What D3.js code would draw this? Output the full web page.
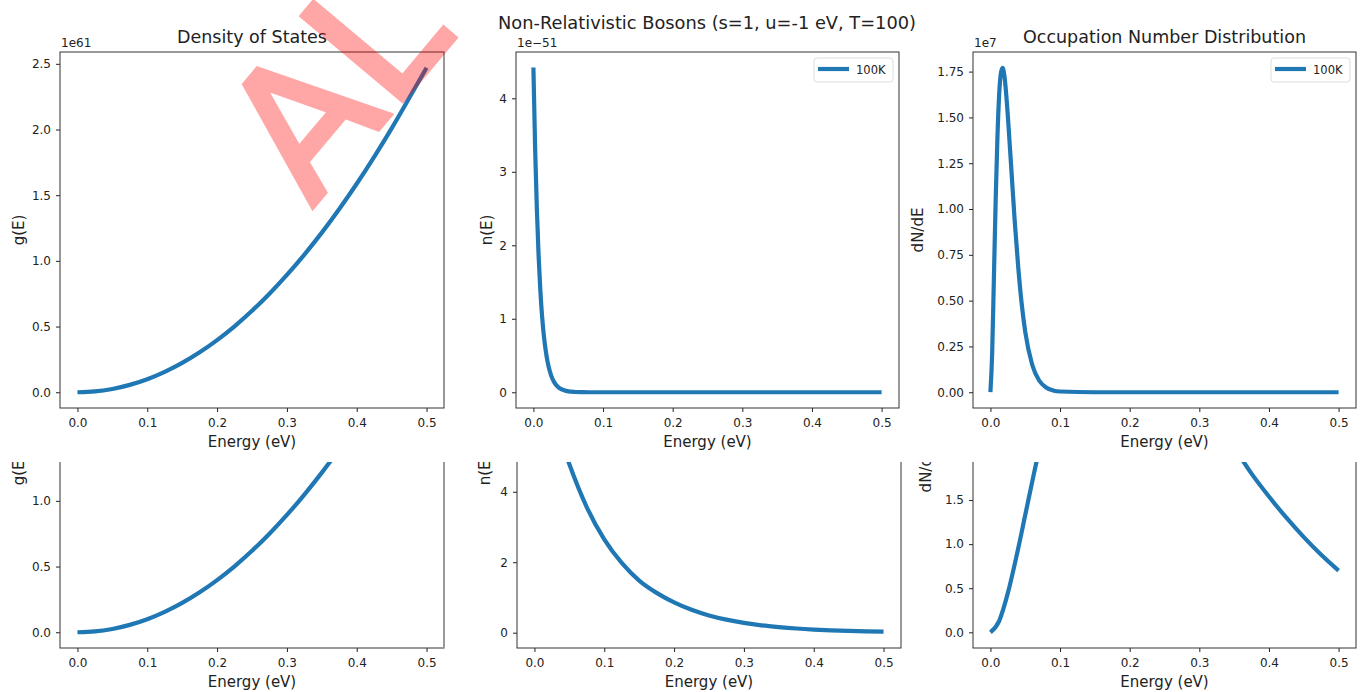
<!DOCTYPE html>
<html lang="en">
<head>
    <meta charset="UTF-8">
    <title>Non-Relativistic Bosons</title>
    <script src="https://d3js.org/d3.v7.min.js"></script>
    <style>
        body {
            margin: 0;
            padding: 0;
            background-color: #fff;
        }
        svg text {
            font-family: "DejaVu Sans", sans-serif;
            fill: #222;
        }
    </style>
</head>
<body>
    <script>
        // --- data ---
        var xTicks = [0, 0.1, 0.2, 0.3, 0.4, 0.5];

        var energyCoarse = [0, 0.025, 0.05, 0.075, 0.1, 0.125, 0.15, 0.175, 0.2, 0.225, 0.25,
            0.275, 0.3, 0.325, 0.35, 0.375, 0.4, 0.425, 0.45, 0.475, 0.5];
        var densityOfStates = [0, 0.006, 0.025, 0.056, 0.099, 0.155, 0.223, 0.304, 0.397, 0.502, 0.620,
            0.750, 0.893, 1.048, 1.215, 1.395, 1.587, 1.792, 2.009, 2.238, 2.47];   // x 1e61
        var dosTicks = [0, 0.5, 1, 1.5, 2, 2.5];

        var energyFine = [0, 0.0025, 0.005, 0.0075, 0.01, 0.0125, 0.015, 0.0175, 0.02, 0.025, 0.03,
            0.035, 0.04, 0.045, 0.05, 0.06, 0.07, 0.08, 0.09, 0.1, 0.15, 0.2, 0.3, 0.4, 0.5];
        var occupation100K = [4.42, 3.31, 2.48, 1.85, 1.38, 1.03, 0.77, 0.58, 0.43, 0.24, 0.135,
            0.076, 0.043, 0.024, 0.013, 0.004, 0.001, 0, 0, 0, 0, 0, 0, 0, 0];     // x 1e-51
        var occTicks = [0, 1, 2, 3, 4];
        var dNdE100K = [0, 0.21, 0.62, 1.04, 1.38, 1.62, 1.74, 1.77, 1.73, 1.51, 1.22,
            0.93, 0.68, 0.48, 0.33, 0.15, 0.064, 0.026, 0.010, 0.004, 0, 0, 0, 0, 0]; // x 1e7
        var dndeTicks = [0, 0.25, 0.5, 0.75, 1, 1.25, 1.5, 1.75];

        // lower (cropped) row
        var occupationLower = [8.4, 6.28, 4.78, 3.56, 2.65, 1.98, 1.48, 1.13, 0.86, 0.65, 0.49,
            0.37, 0.28, 0.21, 0.16, 0.12, 0.09, 0.068, 0.05, 0.038, 0.03];
        var occLowerTicks = [0, 2, 4, 6, 8];
        var energyLower = [0, 0.0125, 0.025, 0.0375, 0.05, 0.0625, 0.075, 0.1, 0.125, 0.15, 0.175, 0.2,
            0.225, 0.25, 0.275, 0.3, 0.325, 0.35, 0.375, 0.4, 0.425, 0.45, 0.475, 0.5];
        var dNdELower = [0, 0.128, 0.444, 0.864, 1.33, 1.80, 2.24, 2.97, 3.48, 3.75, 3.82, 3.74,
            3.54, 3.27, 2.96, 2.74, 2.42, 2.10, 1.80, 1.54, 1.30, 1.08, 0.88, 0.70];
        var dndeLowerTicks = [0, 0.5, 1, 1.5, 2, 2.5, 3, 3.5];

        var lineColor = "#1f77b4";

        var svg = d3.select("body").append("svg")
            .attr("width", 1363)
            .attr("height", 692);

        var defs = svg.append("defs");
        // the lower row is a cropped screenshot: everything above y=462 is cut away
        defs.append("clipPath").attr("id", "rowclip")
            .append("rect").attr("x", 0).attr("y", 462).attr("width", 1363).attr("height", 230);

        var panelCount = 0;

        function drawPanel(p) {
            var id = "ax" + (panelCount++);
            var root = svg.append("g");
            if (p.cropped) root.attr("clip-path", "url(#rowclip)");

            var x = d3.scaleLinear().domain([-0.025, 0.525]).range([p.left, p.right]);
            var y = d3.scaleLinear().domain(p.yDomain).range([p.bottom, p.top]);

            defs.append("clipPath").attr("id", id)
                .append("rect")
                .attr("x", p.left).attr("y", p.top)
                .attr("width", p.right - p.left).attr("height", p.bottom - p.top);

            // x axis
            var gx = root.append("g")
                .attr("transform", "translate(0," + p.bottom + ")")
                .call(d3.axisBottom(x).tickValues(xTicks).tickFormat(d3.format(".1f"))
                    .tickSize(4).tickPadding(6).tickSizeOuter(0));
            gx.select(".domain").remove();

            // y axis
            var gy = root.append("g")
                .attr("transform", "translate(" + p.left + ",0)")
                .call(d3.axisLeft(y).tickValues(p.yTicks).tickFormat(d3.format(p.yFormat))
                    .tickSize(4).tickPadding(5).tickSizeOuter(0));
            gy.select(".domain").remove();

            root.selectAll(".tick line").attr("stroke", "#222");
            root.selectAll(".tick text")
                .attr("font-size", 12)
                .attr("font-family", "DejaVu Sans")
                .attr("fill", "#333");

            // curve
            var line = d3.line()
                .x(function(d) { return x(d[0]); })
                .y(function(d) { return y(d[1]); })
                .curve(d3.curveMonotoneX);

            root.append("path")
                .datum(d3.zip(p.xs, p.ys))
                .attr("clip-path", "url(#" + id + ")")
                .attr("d", line)
                .attr("fill", "none")
                .attr("stroke", lineColor)
                .attr("stroke-width", 4.2)
                .attr("stroke-linejoin", "round")
                .attr("stroke-linecap", "butt");

            // frame
            root.append("rect")
                .attr("x", p.left).attr("y", p.top)
                .attr("width", p.right - p.left).attr("height", p.bottom - p.top)
                .attr("fill", "none")
                .attr("stroke", "#333")
                .attr("stroke-width", 1);
            if (p.cropped && p.sideColor) {
                root.append("line")
                    .attr("x1", p.right).attr("x2", p.right)
                    .attr("y1", p.top).attr("y2", p.bottom)
                    .attr("stroke", p.sideColor)
                    .attr("stroke-width", 2);
            }

            // labels
            var midX = (p.left + p.right) / 2;
            root.append("text")
                .attr("x", midX).attr("y", p.bottom + 39)
                .attr("text-anchor", "middle")
                .attr("font-size", 15)
                .text("Energy (eV)");

            root.append("text")
                .attr("transform", "translate(" + p.yLabelX + "," + ((p.top + p.bottom) / 2) + ") rotate(-90)")
                .attr("text-anchor", "middle")
                .attr("font-size", 15)
                .text(p.yLabel);

            if (p.offset) {
                root.append("text")
                    .attr("x", p.left + 1).attr("y", p.top - 5)
                    .attr("font-size", 12)
                    .attr("fill", "#333")
                    .text(p.offset);
            }
            if (p.title) {
                root.append("text")
                    .attr("x", midX).attr("y", p.top - 9)
                    .attr("text-anchor", "middle")
                    .attr("font-size", 17.5)
                    .text(p.title);
            }
            if (p.legend) {
                var lx = p.right - 85, ly = p.top + 6;
                root.append("rect")
                    .attr("x", lx).attr("y", ly)
                    .attr("width", 79).attr("height", 24)
                    .attr("rx", 3)
                    .attr("fill", "#fff")
                    .attr("fill-opacity", 0.8)
                    .attr("stroke", "#ddd");
                root.append("line")
                    .attr("x1", lx + 4).attr("x2", lx + 35)
                    .attr("y1", ly + 11).attr("y2", ly + 11)
                    .attr("stroke", lineColor)
                    .attr("stroke-width", 4.2);
                root.append("text")
                    .attr("x", lx + 42).attr("y", ly + 16)
                    .attr("font-size", 11.5)
                    .text(p.legend);
            }
        }

        // top row
        drawPanel({ left: 60, right: 444, top: 52, bottom: 408,
            yDomain: [-0.12, 2.59], yTicks: dosTicks, yFormat: ".1f",
            xs: energyCoarse, ys: densityOfStates,
            yLabel: "g(E)", yLabelX: 24, offset: "1e61", title: "Density of States" });
        drawPanel({ left: 516, right: 899, top: 52, bottom: 408,
            yDomain: [-0.214, 4.63], yTicks: occTicks, yFormat: "d",
            xs: energyFine, ys: occupation100K,
            yLabel: "n(E)", yLabelX: 492, offset: "1e\u221251", legend: "100K" });
        drawPanel({ left: 973, right: 1356, top: 52, bottom: 408,
            yDomain: [-0.086, 1.857], yTicks: dndeTicks, yFormat: ".2f",
            xs: energyFine, ys: dNdE100K,
            yLabel: "dN/dE", yLabelX: 923, offset: "1e7",
            title: "Occupation Number Distribution", legend: "100K" });

        // lower row, same layout shifted down and cropped at the top
        drawPanel({ cropped: true, left: 60, right: 444, top: 292, bottom: 648,
            yDomain: [-0.12, 2.59], yTicks: dosTicks, yFormat: ".1f",
            xs: energyCoarse, ys: densityOfStates,
            yLabel: "g(E)", yLabelX: 24, sideColor: "#999" });
        drawPanel({ cropped: true, left: 517, right: 901, top: 292, bottom: 648,
            yDomain: [-0.434, 9.67], yTicks: occLowerTicks, yFormat: "d",
            xs: energyCoarse, ys: occupationLower,
            yLabel: "n(E)", yLabelX: 490 });
        drawPanel({ cropped: true, left: 973, right: 1356, top: 292, bottom: 648,
            yDomain: [-0.178, 3.86], yTicks: dndeLowerTicks, yFormat: ".1f",
            xs: energyLower, ys: dNdELower,
            yLabel: "dN/dE", yLabelX: 931 });

        // figure title
        svg.append("text")
            .attr("x", 707).attr("y", 29)
            .attr("text-anchor", "middle")
            .attr("font-size", 17.8)
            .text("Non-Relativistic Bosons (s=1, u=-1 eV, T=100)");

        // watermark across the top
        svg.append("g")
            .attr("opacity", 0.34)
            .append("text")
            .attr("transform", "translate(312,208) rotate(-50)")
            .attr("font-size", 180)
            .style("fill", "#ff0000")
            .style("stroke", "#ff0000")
            .style("stroke-width", 5)
            .style("stroke-linejoin", "miter")
            .text("AL");
    </script>
</body>
</html>
